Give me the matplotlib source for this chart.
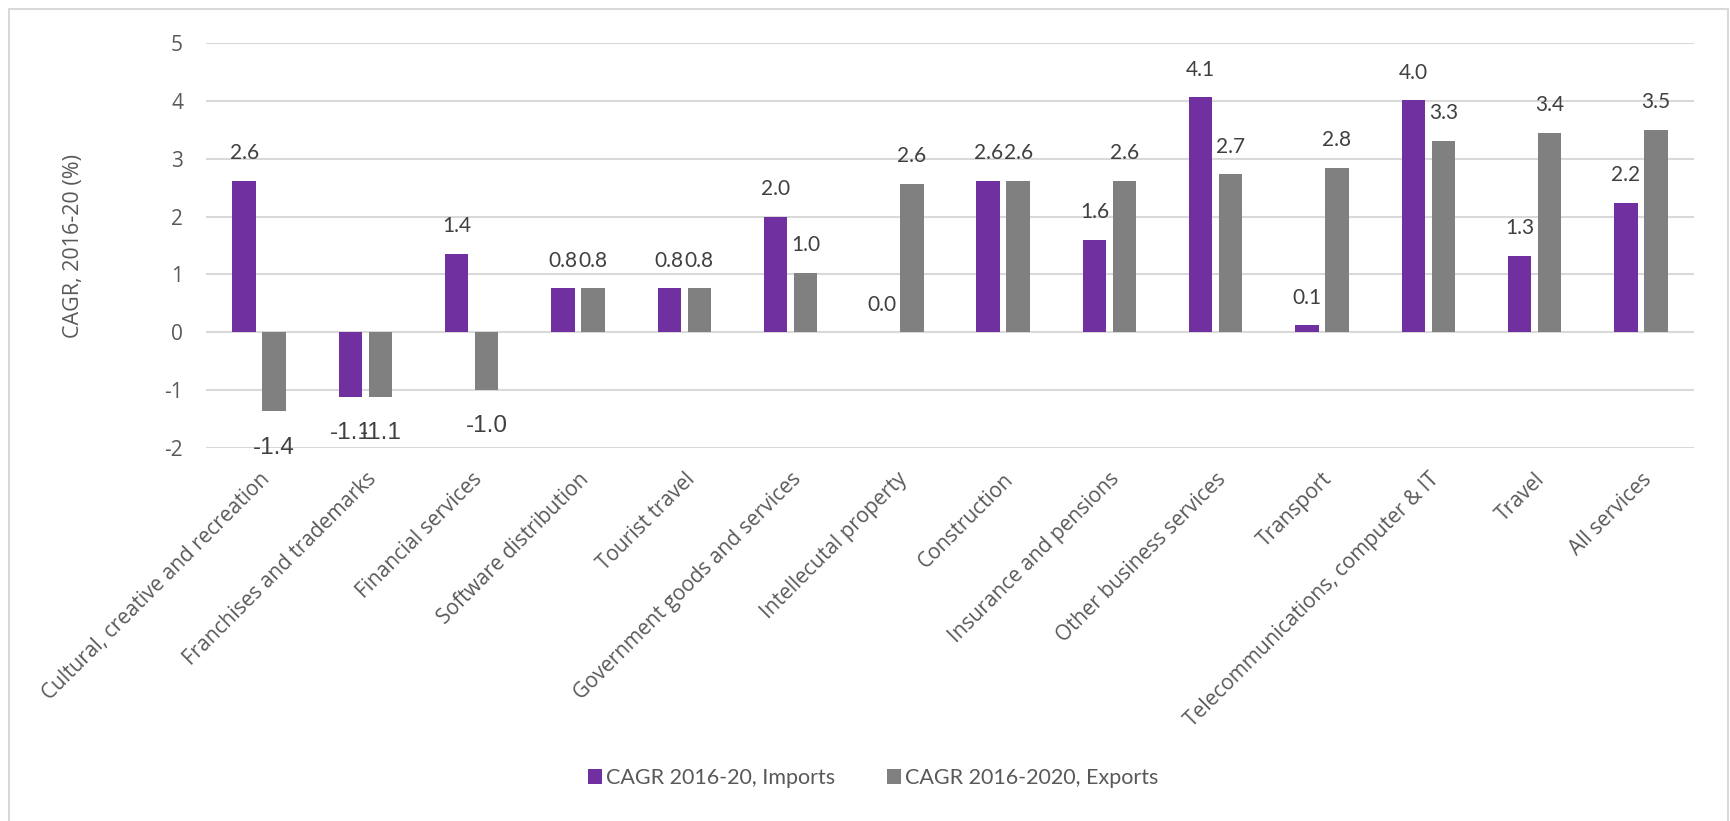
import matplotlib.pyplot as plt
import numpy as np
from matplotlib.patches import Rectangle

# CAGR 2016-20 for services trade, imports vs exports
categories = [
    "Cultural, creative and recreation",
    "Franchises and trademarks",
    "Financial services",
    "Software distribution",
    "Tourist travel",
    "Government goods and services",
    "Intellecutal property",
    "Construction",
    "Insurance and pensions",
    "Other business services",
    "Transport",
    "Telecommunications, computer & IT",
    "Travel",
    "All services",
]
imports = [2.62, -1.11, 1.36, 0.76, 0.76, 2.0, 0.0, 2.62, 1.6, 4.06, 0.12, 4.01, 1.32, 2.24]
exports = [-1.36, -1.11, -0.99, 0.76, 0.76, 1.02, 2.56, 2.62, 2.62, 2.73, 2.84, 3.31, 3.44, 3.5]
yticks = [-2, -1, 0, 1, 2, 3, 4, 5]

purple = "#7030A0"
grey = "#808080"
txt = "#404040"
tick_col = "#595959"

W, H = 1731, 821
fig = plt.figure(figsize=(W / 100, H / 100), dpi=100)
ax = fig.add_axes([206 / W, 1 - 448 / H, 1488 / W, 405 / H])

x = np.arange(len(categories))
w = 0.221
off = 0.141
b1 = ax.bar(x - off, imports, w, color=purple, label="CAGR 2016-20, Imports", zorder=3)
b2 = ax.bar(x + off, exports, w, color=grey, label="CAGR 2016-2020, Exports", zorder=3)

# value labels: above the bar for positives, below for negatives
for bars, vals in ((b1, imports), (b2, exports)):
    for rect, v in zip(bars, vals):
        cx = rect.get_x() + rect.get_width() / 2
        if v >= 0:
            ax.annotate(f"{v:.1f}", (cx, v), xytext=(0, 20), textcoords="offset points",
                        ha="center", va="center", fontsize=15, color=txt, family="Lato")
        else:
            ax.annotate(f"{v:.1f}", (cx, v), xytext=(0, -26.5), textcoords="offset points",
                        ha="center", va="center", fontsize=17.5, color=txt,
                        family="Liberation Sans")

ax.set_ylim(-2, 5)
ax.set_xlim(-0.5, len(categories) - 0.5)
ax.set_yticks(yticks)
ax.set_yticklabels([str(t) for t in yticks], fontsize=15, color=tick_col, family="Open Sans")
ax.grid(axis="y", color="#d9d9d9", linewidth=1.5, zorder=0)
ax.tick_params(axis="y", length=0, pad=16.5)
ax.tick_params(axis="x", length=0, pad=15)
ax.set_xticks(x)
ax.set_xticklabels(categories, rotation=45, ha="right", rotation_mode="anchor",
                   fontsize=15, color=tick_col, family="Open Sans")
for s in ax.spines.values():
    s.set_visible(False)

ax.set_ylabel("CAGR, 2016-20 (%)", fontsize=15.5, color=tick_col, family="Open Sans")
ax.yaxis.set_label_coords(-0.082, 0.5)

fig.legend(handles=[b1, b2], loc="center", bbox_to_anchor=(873 / W, 1 - 778 / H),
           ncol=2, frameon=False, handlelength=0.65, handleheight=0.65, handletextpad=0.2,
           columnspacing=2.4, prop={"family": "Lato", "size": 15.5},
           labelcolor=tick_col)

# outer chart border (open at the bottom edge)
fig.patches.append(Rectangle((9 / W, -0.02), 1719 / W, 1.02 - 9 / H,
                             transform=fig.transFigure, fill=False,
                             edgecolor="#d9d9d9", linewidth=1.5))

fig.savefig("out.png", dpi=100)
